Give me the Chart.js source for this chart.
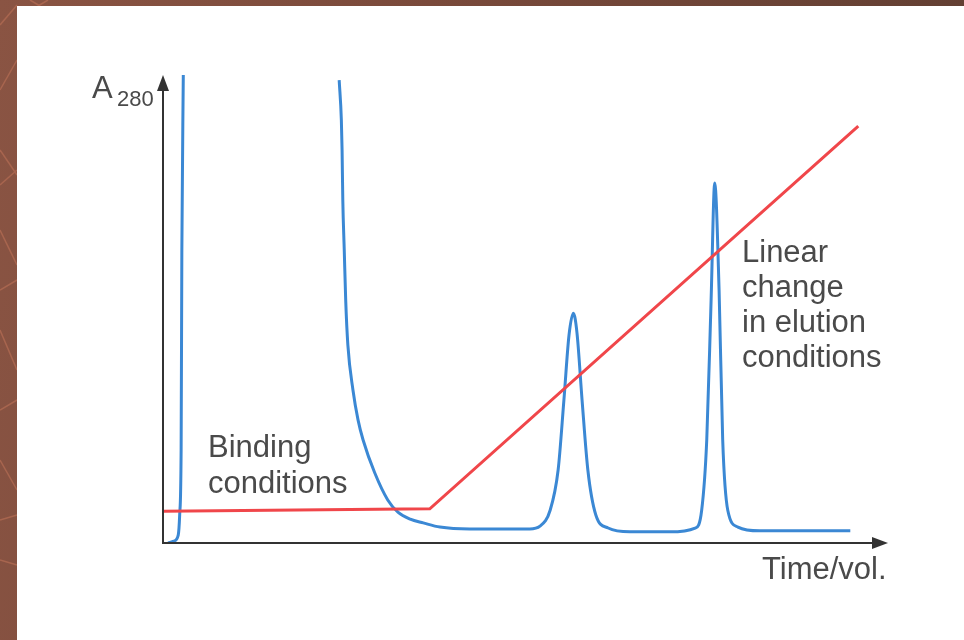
<!DOCTYPE html>
<html>
<head>
<meta charset="utf-8">
<script src="https://cdn.jsdelivr.net/npm/chart.js@4.4.0/dist/chart.umd.min.js"></script>
<style>
  html, body { margin: 0; padding: 0; }
  body {
    width: 964px; height: 640px; overflow: hidden; position: relative;
    background: linear-gradient(100deg, #8a5443 0%, #7a4a3b 40%, #5e3d31 100%);
  }
  #panel { position: absolute; left: 17px; top: 6px; right: 0; bottom: 0; background: #fff; }
  #wrap { position: absolute; left: 0; top: 0; width: 964px; height: 640px; }
  #lines { position: absolute; left: 0; top: 0; }
</style>
</head>
<body>
<svg id="lines" width="964" height="640">
  <g stroke="#b06a52" stroke-width="1.5" fill="none" opacity="0.8">
    <line x1="0" y1="25" x2="17" y2="5"/>
    <line x1="0" y1="90" x2="17" y2="60"/>
    <line x1="0" y1="150" x2="17" y2="175"/>
    <line x1="0" y1="185" x2="17" y2="170"/>
    <line x1="0" y1="230" x2="17" y2="265"/>
    <line x1="0" y1="290" x2="17" y2="280"/>
    <line x1="0" y1="330" x2="17" y2="370"/>
    <line x1="0" y1="410" x2="17" y2="400"/>
    <line x1="0" y1="460" x2="17" y2="490"/>
    <line x1="0" y1="520" x2="17" y2="515"/>
    <line x1="0" y1="560" x2="17" y2="565"/>
    <line x1="30" y1="0" x2="40" y2="6"/>
    <line x1="38" y1="6" x2="48" y2="0"/>
  </g>
</svg>
<div id="panel"></div>
<div id="wrap"><canvas id="chart" width="964" height="640"></canvas></div>
<script>
// absorbance trace (arbitrary units), split in two parts by the off-scale load peak
const loadTime = [0.7, 1.5, 2.1, 2.3, 2.5, 2.6, 2.8];
const loadA280 = [0, 0.4, 1.7, 6.0, 19.9, 62.6, 100];

const elutionTime = [24.3, 24.6, 24.7, 24.8, 25.0, 25.2, 25.5, 26.2, 26.9, 27.6, 29.2, 31.0, 32.4,
  34.1, 35.9, 38.2, 42.3, 50.6,
  52.0, 53.4, 54.5, 55.3, 56.0, 56.6, 57.1, 57.8, 58.6, 59.7, 61.4, 64.4, 69.9, 73.4,
  74.3, 75.0, 75.6, 76.1, 76.7, 77.2, 77.9, 79.3, 82.3, 94.8];
const elutionA280 = [98.9, 90.4, 84.0, 73.3, 62.6, 51.9, 42.3, 32.7, 26.3, 22.0, 15.0, 9.2, 6.6,
  5.1, 4.3, 3.4, 3.0, 3.0,
  3.6, 7.0, 15.6, 30.6, 44.4, 49.1, 44.9, 30.6, 15.6, 6.0, 3.2, 2.4, 2.4, 3.2,
  7.0, 22.0, 51.9, 76.9, 54.1, 22.0, 7.0, 3.4, 2.6, 2.6];

// gradient of elution conditions
const gradTime = [0, 36.8, 95.9];
const gradLevel = [6.8, 7.3, 89.1];

const blue = '#3b88d4';
const red = '#f0464a';
const textColor = '#4a4a4a';

function toPoints(xs, ys) {
  return xs.map((x, i) => ({ x: x, y: ys[i] }));
}

const decorations = {
  id: 'decorations',
  afterDraw(chart) {
    const ctx = chart.ctx;
    const a = chart.chartArea;
    ctx.save();
    // axes with arrows
    ctx.strokeStyle = '#333';
    ctx.fillStyle = '#333';
    ctx.lineWidth = 2;
    ctx.beginPath();
    ctx.moveTo(a.left, a.top + 6);
    ctx.lineTo(a.left, a.bottom);
    ctx.lineTo(a.right - 6, a.bottom);
    ctx.stroke();
    ctx.beginPath();
    ctx.moveTo(a.left, a.top);
    ctx.lineTo(a.left - 6, a.top + 16);
    ctx.lineTo(a.left + 6, a.top + 16);
    ctx.closePath();
    ctx.fill();
    ctx.beginPath();
    ctx.moveTo(a.right, a.bottom);
    ctx.lineTo(a.right - 16, a.bottom - 6);
    ctx.lineTo(a.right - 16, a.bottom + 6);
    ctx.closePath();
    ctx.fill();

    // labels
    ctx.fillStyle = textColor;
    ctx.textBaseline = 'alphabetic';
    ctx.textAlign = 'left';
    ctx.font = '31px "Liberation Sans", Arial, sans-serif';
    ctx.fillText('A', 92, 98);
    ctx.font = '22px "Liberation Sans", Arial, sans-serif';
    ctx.fillText('280', 117, 106);

    ctx.font = '31px "Liberation Sans", Arial, sans-serif';
    ctx.fillText('Binding', 208, 457);
    ctx.fillText('conditions', 208, 493);
    const lin = ['Linear', 'change', 'in elution', 'conditions'];
    lin.forEach((t, i) => ctx.fillText(t, 742, 262 + i * 35));
    ctx.fillText('Time/vol.', 762, 579);
    ctx.restore();
  }
};

new Chart(document.getElementById('chart'), {
  type: 'line',
  data: {
    datasets: [
      {
        data: toPoints(gradTime, gradLevel),
        borderColor: red,
        borderWidth: 3,
        pointRadius: 0,
        tension: 0
      },
      {
        data: toPoints(loadTime, loadA280),
        borderColor: blue,
        borderWidth: 3,
        pointRadius: 0,
        cubicInterpolationMode: 'monotone'
      },
      {
        data: toPoints(elutionTime, elutionA280),
        borderColor: blue,
        borderWidth: 3,
        pointRadius: 0,
        cubicInterpolationMode: 'monotone'
      }
    ]
  },
  options: {
    responsive: false,
    animation: false,
    layout: { padding: { left: 163, right: 76, top: 75, bottom: 97 } },
    plugins: { legend: { display: false }, tooltip: { enabled: false } },
    scales: {
      x: { type: 'linear', min: 0, max: 100, display: false },
      y: { type: 'linear', min: 0, max: 100, display: false }
    }
  },
  plugins: [decorations]
});
</script>
</body>
</html>
